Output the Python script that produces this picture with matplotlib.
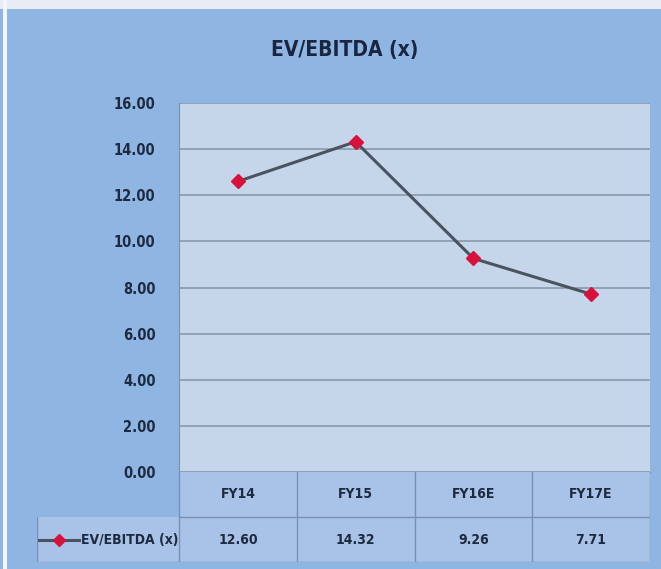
import matplotlib
matplotlib.use("Agg")
import matplotlib.pyplot as plt
from matplotlib.lines import Line2D
from matplotlib.patches import Rectangle

categories = ["FY14", "FY15", "FY16E", "FY17E"]
values = [12.60, 14.32, 9.26, 7.71]
series_name = "EV/EBITDA (x)"
yticks = [0, 2, 4, 6, 8, 10, 12, 14, 16]

W, H = 661, 569
fig = plt.figure(figsize=(W / 100, H / 100), dpi=100)
bg = "#8fb5e3"
fig.patch.set_facecolor(bg)
plt.rcParams['font.family'] = ['DejaVu Sans']
FS = dict(fontstretch="condensed", fontweight="bold")
TC = "#1d2a40"

fig.add_artist(Rectangle((0, 1 - 9 / H), 1, 9 / H, transform=fig.transFigure,
                         facecolor="#e8ecf4", edgecolor="none"))
fig.add_artist(Rectangle((3 / W, 0), 4 / W, 1, transform=fig.transFigure,
                         facecolor="#f4f6fb", edgecolor="none"))

L, R, T, B = 179, 650, 103, 472
ax = fig.add_axes([L / W, 1 - B / H, (R - L) / W, (B - T) / H])
ax.set_facecolor("#c6d6ea")
x = list(range(len(categories)))
ax.plot(x, values, color="#4a5360", lw=2.2, marker="D", ms=7,
        markerfacecolor="#d8103c", markeredgecolor="#d8103c", zorder=3)
ax.set_xlim(-0.5, len(categories) - 0.5)
ax.set_ylim(0, 16)
ax.set_yticks(yticks)
ax.set_yticklabels([f"{v:.2f}" for v in yticks], fontsize=10.5, color=TC, **FS)
ax.set_xticks([])
ax.grid(axis="y", color="#8898ad", lw=1.2)
ax.set_axisbelow(True)
for s in ["top", "right"]:
    ax.spines[s].set_visible(False)
ax.spines["left"].set_color("#7f8fa8")
ax.spines["bottom"].set_color("#7f8fa8")
ax.tick_params(axis="y", length=0, pad=17)

fig.text(345 / W, 1 - 50 / H, series_name, ha="center", va="center",
         fontsize=15, color="#1a2540", **FS)

ncol = len(categories)
unit = (R - L) / ncol
label_left = 37
tx0 = -0.5 - (L - label_left) / unit
TT, TM, TB = 472, 519, 562
tax = fig.add_axes([label_left / W, 1 - TB / H, (R - label_left) / W, (TB - TT) / H])
tax.set_xlim(tx0, ncol - 0.5)
tax.set_ylim(0, 2)
tax.axis("off")
tax.add_patch(Rectangle((-0.5, 1), ncol, 1, facecolor="#a9c3e8", edgecolor="none"))
tax.add_patch(Rectangle((tx0, 0), ncol - 0.5 - tx0, 1, facecolor="#a9c3e8", edgecolor="none"))
lc = "#7c8fb0"
tax.plot([-0.5, ncol - 0.5], [1, 1], color=lc, lw=1)
tax.plot([tx0, ncol - 0.5], [0, 0], color=lc, lw=1)
tax.plot([tx0, tx0], [0, 1], color=lc, lw=1)
for i in range(ncol + 1):
    tax.plot([i - 0.5, i - 0.5], [0, 2], color=lc, lw=1)
for i, (c, v) in enumerate(zip(categories, values)):
    tax.text(i, 1.5, c, ha="center", va="center", fontsize=10, color=TC, **FS)
    tax.text(i, 0.5, f"{v:.2f}", ha="center", va="center", fontsize=10, color=TC, **FS)
kx = tx0 + 0.02
kw = 40 / unit
tax.add_line(Line2D([kx, kx + kw], [0.5, 0.5], color="#4a5360", lw=2.2))
tax.add_line(Line2D([kx + kw / 2], [0.5], color="#d8103c", marker="D", ms=6, lw=0))
tax.text(kx + kw + 0.01, 0.5, series_name, ha="left", va="center", fontsize=10,
         color=TC, **FS)

fig.savefig("out.png", dpi=100, facecolor=fig.get_facecolor())
